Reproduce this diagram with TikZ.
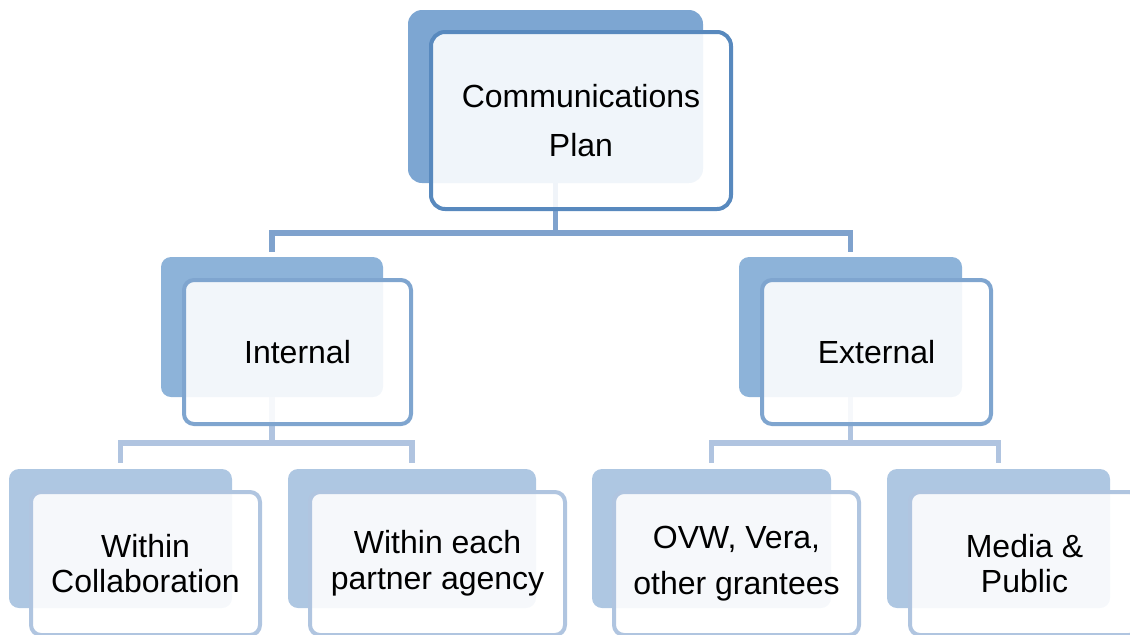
\documentclass[tikz,border=0pt]{standalone}
\usepackage{fontspec}
\setmainfont{Liberation Sans}

\definecolor{rootfill}{RGB}{125,166,210}
\definecolor{rootline}{RGB}{88,137,190}
\definecolor{midfill}{RGB}{141,179,217}
\definecolor{midline}{RGB}{127,165,207}
\definecolor{leaffill}{RGB}{174,199,226}
\definecolor{leafline}{RGB}{176,197,224}
\definecolor{toplink}{RGB}{127,162,205}
\definecolor{lowlink}{RGB}{176,196,224}

\begin{document}
\begin{tikzpicture}[x=0.5pt, y=-0.5pt,
                    backbox/.style={rectangle, rounded corners=5pt, inner sep=0pt, outer sep=0pt},
                    frontbox/.style={rectangle, rounded corners=5pt, line width=2pt, fill=white, fill opacity=0.89, text opacity=1, align=center, inner sep=0pt, outer sep=0pt, minimum height=72pt},
                    link/.style={line width=2.7pt}
                ]
                    \clip (0,0) rectangle (1130,634);

                    % shadow boxes
                    \node[backbox, fill=rootfill, rounded corners=7pt, minimum width=147.5pt, minimum height=86.5pt] (planbk) at (555.5,96.5) {};
                    \node[backbox, fill=midfill, minimum width=111pt, minimum height=70pt] (intbk) at (272,327) {};
                    \node[backbox, fill=midfill, minimum width=111.5pt, minimum height=70pt] (extbk) at (850.5,327) {};
                    \node[backbox, fill=leaffill, minimum width=111.5pt, minimum height=69.5pt] (collabbk) at (120.5,538.5) {};
                    \node[backbox, fill=leaffill, minimum width=124pt, minimum height=69.5pt] (agencybk) at (412,538.5) {};
                    \node[backbox, fill=leaffill, minimum width=119.5pt, minimum height=69.5pt] (granteebk) at (711.5,538.5) {};
                    \node[backbox, fill=leaffill, minimum width=111.5pt, minimum height=69.5pt] (mediabk) at (998.5,538.5) {};

                    % connectors
                    \draw[link, toplink] (planbk.south) -- ++(0,50) -| ([yshift=2.5pt]intbk.north);
                    \draw[link, toplink] (planbk.south) -- ++(0,50) -| ([yshift=2.5pt]extbk.north);
                    \draw[link, lowlink] (intbk.south) -- ++(0,46) -| ([yshift=3pt]collabbk.north);
                    \draw[link, lowlink] (intbk.south) -- ++(0,46) -| ([yshift=3pt]agencybk.north);
                    \draw[link, lowlink] (extbk.south) -- ++(0,46) -| ([yshift=3pt]granteebk.north);
                    \draw[link, lowlink] (extbk.south) -- ++(0,46) -| ([yshift=3pt]mediabk.north);

                    % text boxes
                    \node[frontbox, draw=rootline, rounded corners=7pt, minimum width=150pt, minimum height=88.5pt, font=\fontsize{16pt}{24.5pt}\selectfont] (plan) at (581,120.5) {Communications\\Plan};
                    \node[frontbox, draw=midline, minimum width=113.5pt, font=\fontsize{16pt}{18pt}\selectfont] (internal) at (297.5,352) {Internal};
                    \node[frontbox, draw=midline, minimum width=114.5pt, font=\fontsize{16pt}{18pt}\selectfont] (external) at (876.5,352) {External};
                    \node[frontbox, draw=leafline, minimum width=114.5pt, minimum height=71.5pt, font=\fontsize{16pt}{17.5pt}\selectfont] (collab) at (145.5,563.5) {Within\\Collaboration};
                    \node[frontbox, draw=leafline, minimum width=127.5pt, minimum height=71.5pt, font=\fontsize{16pt}{18pt}\selectfont] (agency) at (437.5,563.5) {Within each\\partner agency};
                    \node[frontbox, draw=leafline, minimum width=122.5pt, minimum height=71.5pt, font=\fontsize{16pt}{23pt}\selectfont] (grantee) at (736.5,563.5) {OVW, Vera,\\other grantees};
                    \node[frontbox, draw=leafline, minimum width=114.5pt, minimum height=71.5pt, font=\fontsize{16pt}{17.5pt}\selectfont] (media) at (1024.5,563.5) {Media \&\\Public};
                \end{tikzpicture}
\end{document}
